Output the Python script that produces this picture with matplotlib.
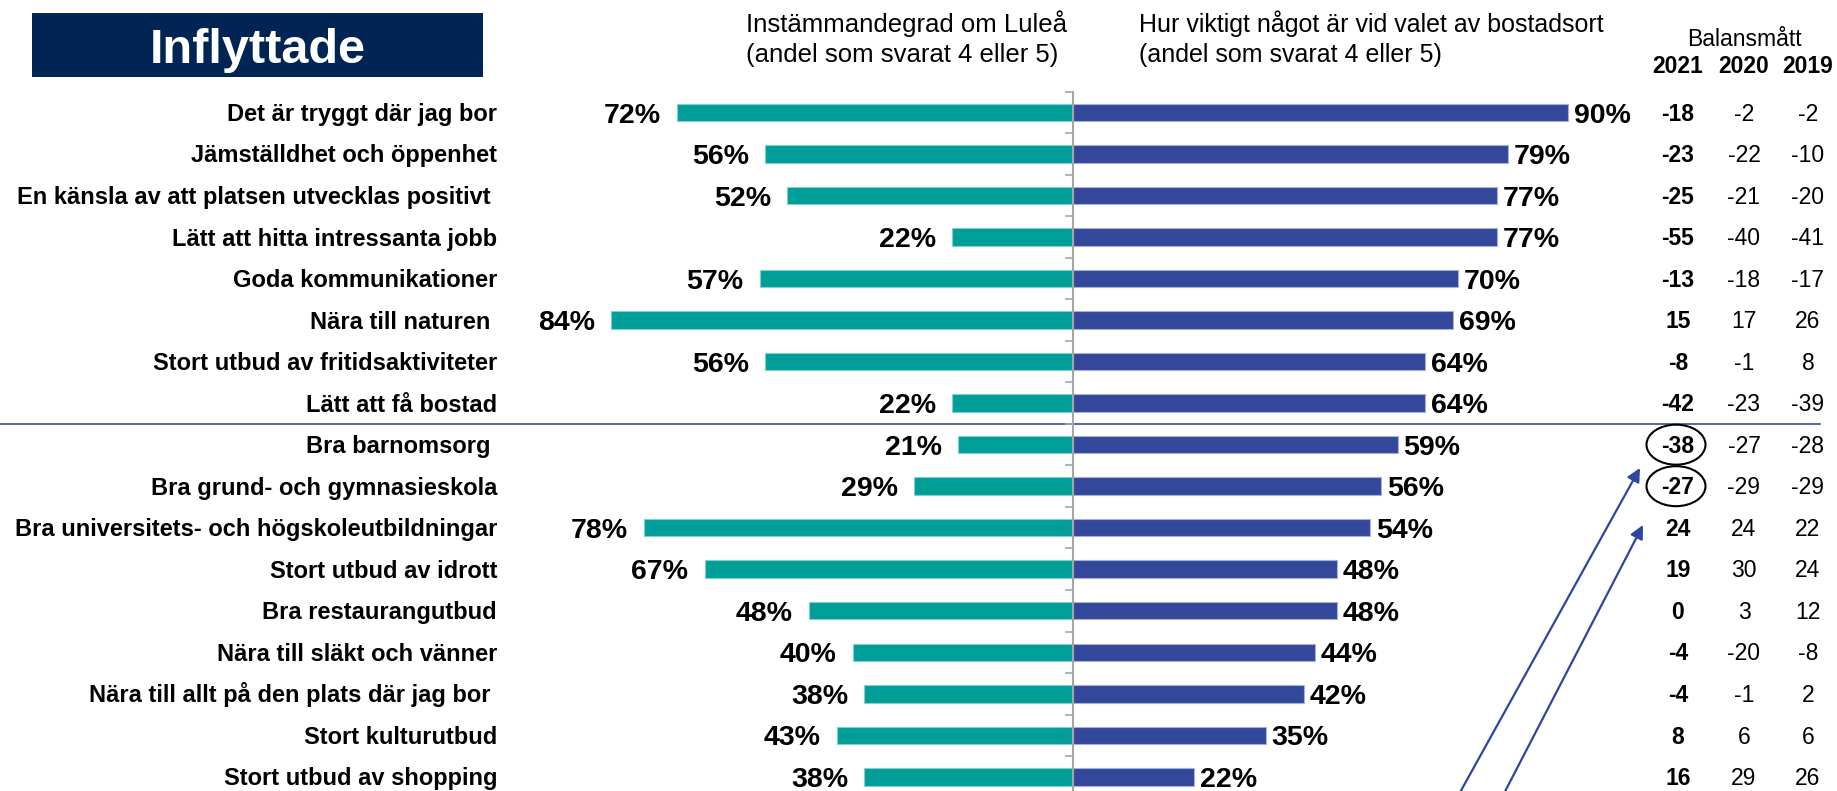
import matplotlib
matplotlib.use('Agg')
import matplotlib.pyplot as plt
from matplotlib.patches import Ellipse, Rectangle
from matplotlib import font_manager

categories = [
    "Det är tryggt där jag bor",
    "Jämställdhet och öppenhet",
    "En känsla av att platsen utvecklas positivt ",
    "Lätt att hitta intressanta jobb",
    "Goda kommunikationer",
    "Nära till naturen ",
    "Stort utbud av fritidsaktiviteter",
    "Lätt att få bostad",
    "Bra barnomsorg ",
    "Bra grund- och gymnasieskola",
    "Bra universitets- och högskoleutbildningar",
    "Stort utbud av idrott",
    "Bra restaurangutbud",
    "Nära till släkt och vänner",
    "Nära till allt på den plats där jag bor ",
    "Stort kulturutbud",
    "Stort utbud av shopping",
]
agree = [72, 56, 52, 22, 57, 84, 56, 22, 21, 29, 78, 67, 48, 40, 38, 43, 38]
importance = [90, 79, 77, 77, 70, 69, 64, 64, 59, 56, 54, 48, 48, 44, 42, 35, 22]
bal_2021 = [-18, -23, -25, -55, -13, 15, -8, -42, -38, -27, 24, 19, 0, -4, -4, 8, 16]
bal_2020 = [-2, -22, -21, -40, -18, 17, -1, -23, -27, -29, 24, 30, 3, -20, -1, 6, 29]
bal_2019 = [-2, -10, -20, -41, -17, 26, 8, -39, -28, -29, 22, 24, 12, -8, 2, 6, 26]
years = ["2021", "2020", "2019"]
title = "Inflyttade"
header_left = ["Instämmandegrad om Luleå", "(andel som svarat 4 eller 5)"]
header_right = ["Hur viktigt något är vid valet av bostadsort", "(andel som svarat 4 eller 5)"]
table_title = "Balansmått"
circled_rows = [8, 9]

names = {f.name for f in font_manager.fontManager.ttflist}
BASE = 'Liberation Sans' if 'Liberation Sans' in names else 'DejaVu Sans'
NARROW = 'Liberation Sans Narrow' if 'Liberation Sans Narrow' in names else BASE
plt.rcParams['font.family'] = [BASE, 'DejaVu Sans']

W, H = 1837, 791
fig = plt.figure(figsize=(W / 100, H / 100), dpi=100)
ax = fig.add_axes([0, 0, 1, 1])
X0, PX = 1073.0, 5.5        # centre line (px) and px per percent
Y0, DY = 112.5, 41.52       # first row centre (px from top) and row pitch
ax.set_xlim(-X0 / PX, (W - X0) / PX)
ax.set_ylim((H - Y0) / DY, -Y0 / DY)
ax.axis('off')


def px2x(px):
    return (px - X0) / PX


def cap_off(fs):
    # baseline offset (in rows) so caps are centred on the row
    return 0.716 * fs * 100 / 72 / 2 / DY


n = len(categories)
rows = list(range(n))
teal, blue = '#009E99', '#33479B'
bh = 17.5 / DY
ax.barh(rows, [-v for v in agree], height=bh, color=teal, edgecolor='#80D0CC', linewidth=0.8, zorder=2)
ax.barh(rows, importance, height=bh, color=blue, edgecolor='#A8B0D8', linewidth=0.8, zorder=2)

# centre axis with ticks
ax.plot([0, 0], [-0.5, n + 1], color='#A6A6A6', lw=1.5, zorder=3)
for k in range(n + 1):
    ax.plot([-7 / PX, 0], [k - 0.5, k - 0.5], color='#A6A6A6', lw=1.2, zorder=3)

# separator line
ax.plot([px2x(0), px2x(1820)], [7.5, 7.5], color='#3A4FA0', lw=1.2, zorder=1)

FS_LAB, FS_PCT, FS_TAB = 17, 20.5, 16.5
for i in rows:
    ax.text(px2x(497), i + cap_off(FS_LAB), categories[i], ha='right', va='baseline',
            fontsize=FS_LAB, fontweight='bold')
    ax.text(-agree[i] - 16 / PX, i + cap_off(FS_PCT), f"{agree[i]}%", ha='right', va='baseline',
            fontsize=FS_PCT, fontweight='bold')
    ax.text(importance[i] + 6 / PX, i + cap_off(FS_PCT), f"{importance[i]}%", ha='left', va='baseline',
            fontsize=FS_PCT, fontweight='bold')

# balance table
cols_px = [1678, 1744, 1808]
for vals, cx, bold in zip([bal_2021, bal_2020, bal_2019], cols_px, [True, False, False]):
    for i in rows:
        ax.text(px2x(cx), i + cap_off(FS_TAB), str(vals[i]), ha='center', va='baseline',
                fontsize=FS_TAB, fontweight='bold' if bold else 'normal')
for yr, cx in zip(years, cols_px):
    fig.text(cx / W, 1 - 73 / H, yr, ha='center', va='baseline', fontsize=FS_TAB, fontweight='bold')
fig.text(1744 / W, 1 - 46 / H, table_title, ha='center', va='baseline', fontsize=FS_TAB)

for r in circled_rows:
    ax.add_patch(Ellipse((px2x(1676), r), 59 / PX, 40 / DY, fill=False, edgecolor='black', lw=1.5, zorder=4))

# title box
fig.patches.append(Rectangle((32 / W, 1 - 77 / H), (483 - 32) / W, 64 / H, transform=fig.transFigure,
                             facecolor='#002554', edgecolor='none', zorder=0))
fig.text(257.5 / W, 1 - 63 / H, title, ha='center', va='baseline', fontsize=35, fontweight='bold', color='white')

# headers
for line, ybase in zip(header_left, [32, 62]):
    fig.text(746 / W, 1 - ybase / H, line, ha='left', va='baseline', fontsize=18.5, family=[NARROW, 'DejaVu Sans'])
for line, ybase in zip(header_right, [32, 62]):
    fig.text(1139 / W, 1 - ybase / H, line, ha='left', va='baseline', fontsize=18, family=[NARROW, 'DejaVu Sans'])

# arrows
arrow_col = '#2E46A0'
for (x1, y1), (x2, y2) in [((1453, 805), (1640, 468)), ((1498, 805), (1643, 525))]:
    ax.annotate('', xy=(x2, H - y2), xycoords='figure pixels', xytext=(x1, H - y1), textcoords='figure pixels',
                arrowprops=dict(arrowstyle='-|>', color=arrow_col, lw=1.6, mutation_scale=20, shrinkA=0, shrinkB=0))

fig.savefig('out.png', dpi=100)
